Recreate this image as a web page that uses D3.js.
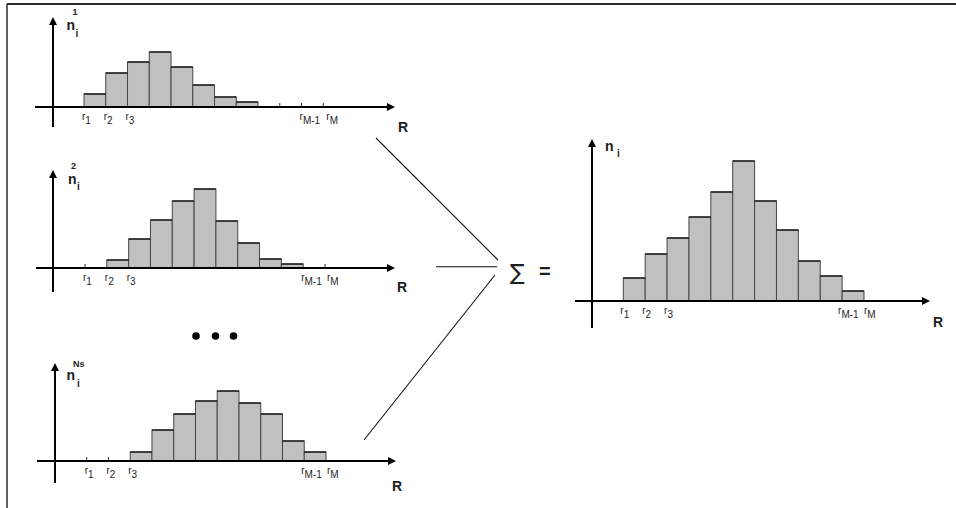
<!DOCTYPE html>
<html>
<head>
<meta charset="utf-8">
<script src="https://cdn.jsdelivr.net/npm/d3@7"></script>
<style>
  html, body { margin: 0; padding: 0; background: #fff; }
  svg { display: block; }
  text { font-family: "Liberation Sans", Arial, sans-serif; fill: #1e1e1e; }
</style>
</head>
<body>
<svg id="chart" width="956" height="508"></svg>
<script>
// Bin counts per sample (11 bins between r1 and rM), and their sum
const counts1   = [13, 34, 45, 55, 40, 22, 10, 5, 0, 0, 0];
const counts2   = [0, 8, 29, 48, 67, 79, 47, 25, 9, 4, 0];
const countsNs  = [0, 0, 9, 31, 47, 60, 70, 58, 47, 20, 9];
const countsSum = [23, 47, 63, 84, 109, 140, 100, 71, 40, 25, 10];

// Bin-edge labels: subscript text and the edge index it belongs to
const edgeSubs   = ["1", "2", "3", "M-1", "M"];
const edgeIndex  = [0, 1, 2, 10, 11];
const nBins = 11;

const svg = d3.select("#chart");

// outer frame (top and left edges)
svg.append("line").attr("x1", 7).attr("y1", 4).attr("x2", 956).attr("y2", 4)
  .attr("stroke", "#2a2a2a").attr("stroke-width", 2);
svg.append("line").attr("x1", 7).attr("y1", 4).attr("x2", 7).attr("y2", 508)
  .attr("stroke", "#2a2a2a").attr("stroke-width", 1.5);

const panels = [
  { counts: counts1,  sup: "1",  yAxisX: 53,  axisY: 107, x0: 84,    x1: 323.3, yTop: 17,  yBot: 127, xStart: 35,  xEnd: 395,
    nX: 66.5, nY: 29.5, supX: 72.5, supY: 14.5, subX: 75.5, subY: 37, rX: 398, rY: 132, labDx: [-2, -2, -2, -2, 3] },
  { counts: counts2,  sup: "2",  yAxisX: 53,  axisY: 268, x0: 85,    x1: 325,   yTop: 170, yBot: 292, xStart: 36,  xEnd: 395,
    nX: 68,   nY: 183.5, supX: 71, supY: 168.5, subX: 77, subY: 190, rX: 397, rY: 291.5, labDx: [-2, -2, -2, -2, 2] },
  { counts: countsNs, sup: "Ns", yAxisX: 55,  axisY: 461, x0: 86.7,  x1: 326,   yTop: 363, yBot: 483, xStart: 37,  xEnd: 396,
    nX: 66.5, nY: 379.5, supX: 73, supY: 367, subX: 77, subY: 387, rX: 392, rY: 490.5, labDx: [-2, -2, -2, -3, 1] },
  { counts: countsSum, sup: null, yAxisX: 592, axisY: 301, x0: 623.3, x1: 864,   yTop: 139, yBot: 328, xStart: 575, xEnd: 930,
    nX: 605,  nY: 150.5, supX: 0, supY: 0, subX: 617, subY: 157, rX: 933, rY: 327, labDx: [-3, -3, -3, -4, 0] }
];

function arrowHead(g, x, y, dir) {
  const L = 8, W = 4;
  let pts;
  if (dir === "up") pts = [[x, y], [x - W, y + L], [x + W, y + L]];
  else pts = [[x, y], [x - L, y - W], [x - L, y + W]];
  g.append("path").attr("d", d3.line()(pts) + "Z").attr("fill", "#000");
}

panels.forEach(p => {
  const g = svg.append("g");
  const x = d3.scaleLinear().domain([0, nBins]).range([p.x0, p.x1]);
  const y = d3.scaleLinear().domain([0, 100]).range([p.axisY, p.axisY - 100]);

  const bins = p.counts.map((v, i) => ({ i, v })).filter(d => d.v > 0);

  // histogram bars
  g.selectAll("rect.bar").data(bins).join("rect")
    .attr("class", "bar")
    .attr("x", d => x(d.i))
    .attr("y", d => y(d.v))
    .attr("width", d => x(d.i + 1) - x(d.i))
    .attr("height", d => y(0) - y(d.v))
    .attr("fill", "#c0c0c0")
    .attr("stroke", "#454545")
    .attr("stroke-width", 1);

  // darker top edge of each bar
  g.selectAll("line.top").data(bins).join("line")
    .attr("class", "top")
    .attr("x1", d => x(d.i)).attr("x2", d => x(d.i + 1))
    .attr("y1", d => y(d.v)).attr("y2", d => y(d.v))
    .attr("stroke", "#111").attr("stroke-width", 1.3);

  // small ticks at bin edges that carry no bar
  const edges = d3.range(nBins + 1).filter(k => !(p.counts[k - 1] > 0) && !(p.counts[k] > 0));
  g.selectAll("line.tick").data(edges).join("line")
    .attr("x1", d => x(d)).attr("x2", d => x(d))
    .attr("y1", p.axisY).attr("y2", p.axisY - 4)
    .attr("stroke", "#333").attr("stroke-width", 1);

  // axes
  g.append("line").attr("x1", p.xStart).attr("x2", p.xEnd - 6)
    .attr("y1", p.axisY).attr("y2", p.axisY)
    .attr("stroke", "#000").attr("stroke-width", 2);
  arrowHead(g, p.xEnd, p.axisY, "right");
  g.append("line").attr("x1", p.yAxisX).attr("x2", p.yAxisX)
    .attr("y1", p.yBot).attr("y2", p.yTop + 6)
    .attr("stroke", "#000").attr("stroke-width", 2);
  arrowHead(g, p.yAxisX, p.yTop, "up");

  // edge labels r1, r2, r3, rM-1, rM
  edgeSubs.forEach((s, j) => {
    const t = g.append("text")
      .attr("x", x(edgeIndex[j]) + p.labDx[j])
      .attr("y", p.axisY + 12.5)
      .attr("font-size", 10);
    t.append("tspan").text("r");
    t.append("tspan").attr("dy", 4).attr("font-size", 10).text(s);
  });

  // axis titles
  g.append("text").attr("x", p.nX).attr("y", p.nY)
    .attr("font-size", 14).attr("font-weight", "bold").text("n");
  if (p.sup) {
    g.append("text").attr("x", p.supX).attr("y", p.supY)
      .attr("font-size", 9).attr("font-weight", "bold").text(p.sup);
  }
  g.append("text").attr("x", p.subX).attr("y", p.subY)
    .attr("font-size", 10).attr("font-weight", "bold").text("i");
  g.append("text").attr("x", p.rX).attr("y", p.rY)
    .attr("font-size", 14).attr("font-weight", "bold").text("R");
});

// ellipsis between the second and last sample
svg.selectAll("circle.dot").data([196, 215.5, 233.5]).join("circle")
  .attr("class", "dot")
  .attr("cx", d => d).attr("cy", 336).attr("r", 3.8).attr("fill", "#000");

// converging lines into the sum
const links = [
  [[376, 138], [498, 260]],
  [[436, 266.7], [497, 266.7]],
  [[495, 275], [364, 440]]
];
svg.selectAll("path.link").data(links).join("path")
  .attr("class", "link")
  .attr("d", d => d3.line()(d))
  .attr("stroke", "#111").attr("stroke-width", 1.1).attr("fill", "none");

svg.append("text").attr("x", 510).attr("y", 280)
  .style("font-family", "'DejaVu Sans', sans-serif")
  .attr("font-size", 22).text("\u2211");
svg.append("text").attr("x", 539).attr("y", 278)
  .attr("font-size", 20).attr("font-weight", "bold").text("=");
</script>
</body>
</html>
